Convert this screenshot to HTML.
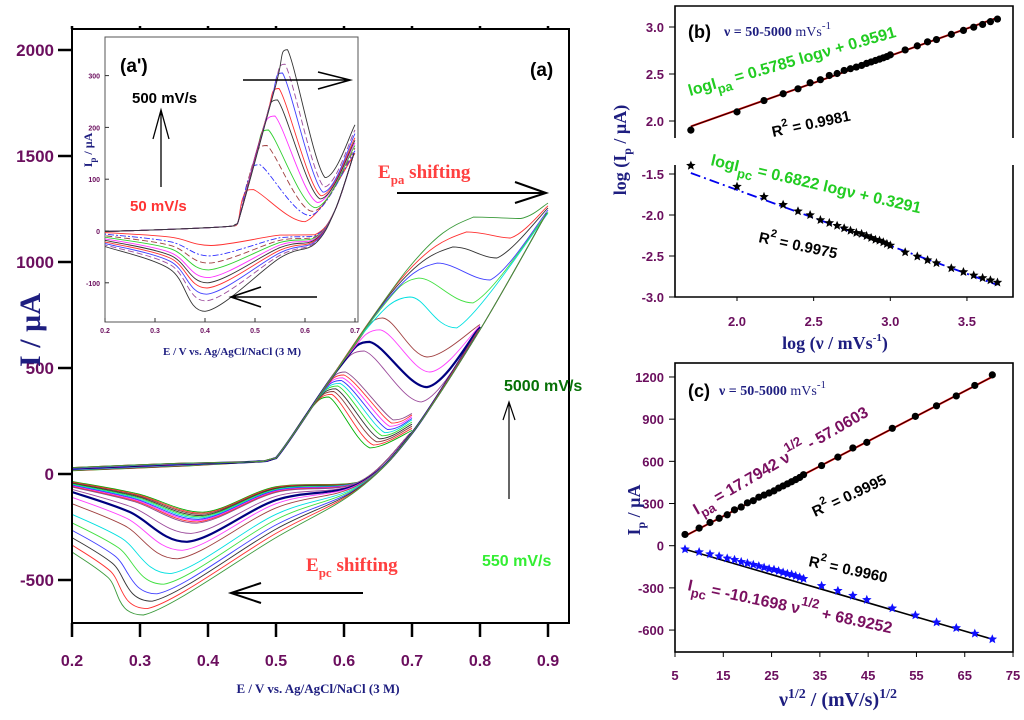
<!DOCTYPE html>
<html><head><meta charset="utf-8"><style>
body{margin:0;background:#fff}
svg{display:block}
text{font-family:"Liberation Sans",sans-serif}
.serif{font-family:"Liberation Serif",serif}
.tk{fill:#6b0f5e;font-weight:bold}
</style></head><body>
<svg id="fig" width="1024" height="720" viewBox="0 0 1024 720" xmlns="http://www.w3.org/2000/svg">
<rect width="1024" height="720" fill="#fff"/>
<g id="main"></g>
<g id="inset"></g>
<g id="pb"></g>
<g id="pc"></g>
</svg>
<script>
// ---------- Panel (c)/(b) data ----------
const rates = [50,100,150,200,250,300,350,400,450,500,550,600,650,700,750,800,850,900,950,1000,1250,1500,1750,2000,2500,3000,3500,4000,4500,5000];
const ipaVals = [80,125,165,195,220,255,275,305,320,345,360,375,390,410,425,440,455,470,485,505,570,630,695,735,835,920,995,1065,1140,1215];
const ipcVals = [-25,-45,-60,-75,-90,-100,-115,-125,-135,-145,-155,-165,-170,-180,-190,-200,-205,-215,-225,-235,-285,-320,-355,-385,-445,-495,-545,-585,-625,-665];
const cFitPa = [17.7942,-57.0603];
const cFitPc = [-10.1698,68.9252];
const bFitPa = [0.5785,0.9591];
const bFitPc = [0.6822,0.3291];
const cXTicks = [5,15,25,35,45,55,65,75];
const cYTicks = [1200,900,600,300,0,-300,-600];
const bXTicks = [2.0,2.5,3.0,3.5];
const bYTicksUp = [3.0,2.5,2.0];
const bYTicksLo = [-1.5,-2.0,-2.5,-3.0];

// ---------- Panel (a) data (20 curves: 550..1000, 1250..2000, 2500..5000) ----------
const mSwitch = [0.7,0.7,0.7,0.7,0.7,0.7,0.7,0.7,0.7,0.7,0.8,0.8,0.8,0.8,0.9,0.9,0.9,0.9,0.9,0.9];
const mEpa = [0.578,0.582,0.585,0.588,0.591,0.594,0.596,0.598,0.6,0.602,0.63,0.638,0.653,0.657,0.697,0.71,0.737,0.76,0.78,0.79];
const mIpa = [363,376,389,402,415,428,441,454,467,481,580,623,680,736,835,924,995,1071,1142,1212];
const mEv = [0.638,0.643,0.648,0.652,0.656,0.66,0.664,0.667,0.67,0.672,0.714,0.722,0.726,0.722,0.766,0.79,0.815,0.825,0.845,0.86];
const mIv = [123,137,152,166,180,195,210,225,240,255,340,410,481,552,689,807,915,1019,1113,1205];
const mEnd = [205,215,225,235,245,255,262,270,278,285,690,695,700,705,1230,1235,1245,1255,1265,1278];
const mEpc = [0.392,0.391,0.39,0.389,0.388,0.387,0.386,0.385,0.384,0.383,0.375,0.369,0.362,0.355,0.345,0.335,0.325,0.318,0.311,0.305];
const mIpc = [-180,-185,-190,-196,-202,-208,-214,-220,-226,-232,-280,-320,-360,-400,-470,-520,-565,-600,-635,-665];
const mR5 = [-60,-63,-66,-69,-72,-75,-78,-81,-84,-87,-105,-123,-140,-160,-190,-215,-240,-260,-280,-300];
const mR2 = [-35,-38,-41,-44,-47,-50,-53,-56,-59,-62,-72,-85,-110,-140,-190,-230,-265,-300,-335,-368];
const mF0 = [15,16,17,18,19,20,21,22,23,24,25,26,27,28,28,29,29,30,30,30];
const mColors = ['#00b000','#ff3030','#8b3a3a','#333333','#30e030','#00dddd','#3030ff','#ff30ff','#ff3030','#8b4a8b','#9b4a9b','#000080','#ff40ff','#a04040','#00e0e0','#40e040','#4040ff','#333333','#ff3030','#3a9a3a'];
const mLower = [[0.9,1230],[0.8,680],[0.7,193]];
const mXTicks = [0.2,0.3,0.4,0.5,0.6,0.7,0.8,0.9];
const mYTicks = [2000,1500,1000,500,0,-500];

// ---------- Inset data (50..500 mV/s) ----------
const iEpa = [0.497,0.51,0.524,0.527,0.54,0.545,0.548,0.555,0.56,0.565];
const iIpa = [80,128,165,195,222,253,275,305,322,350];
const iEv = [0.6,0.61,0.615,0.62,0.625,0.63,0.632,0.636,0.638,0.64];
const iIv = [18,30,38,45,55,62,68,75,85,103];
const iEnd = [150,155,160,165,170,175,180,188,195,205];
const iEpc = [0.412,0.41,0.408,0.407,0.406,0.405,0.404,0.403,0.402,0.4];
const iIpc = [-28,-48,-62,-75,-90,-100,-110,-122,-135,-155];
const iR5 = [-8,-13,-18,-22,-27,-32,-37,-42,-47,-52];
const iR2 = [-3,-6,-9,-12,-15,-18,-21,-24,-27,-30];
const iColors = ['#ff3030','#3030ff','#a04040','#30d030','#ff30ff','#333333','#ff3030','#4040ff','#9b4a9b','#333333'];
const iDash = ['','6 2 2 2','6 3','','','','','','6 3',''];
const iXTicks = [0.2,0.3,0.4,0.5,0.6,0.7];
const iYTicks = [300,200,100,0,-100];

const NS='http://www.w3.org/2000/svg';
function mk(parent,tag,attrs,txt){const e=document.createElementNS(NS,tag);for(const k in attrs)e.setAttribute(k,attrs[k]);if(txt!==undefined)e.textContent=txt;parent.appendChild(e);return e;}
function clamp(v,a,b){const lo=Math.min(a,b),hi=Math.max(a,b);return Math.max(lo,Math.min(hi,v));}
function spline(p){let d='M'+p[0][0].toFixed(1)+','+p[0][1].toFixed(1);
 for(let i=0;i<p.length-1;i++){const p0=p[i-1]||p[i],p1=p[i],p2=p[i+1],p3=p[i+2]||p2;
  const c1=[p1[0]+(p2[0]-p0[0])/6,clamp(p1[1]+(p2[1]-p0[1])/6,p1[1],p2[1])],c2=[p2[0]-(p3[0]-p1[0])/6,clamp(p2[1]-(p3[1]-p1[1])/6,p1[1],p2[1])];
  c1[0]=clamp(c1[0],p1[0],p2[0]);c2[0]=clamp(c2[0],p1[0],p2[0]);
  d+='C'+c1[0].toFixed(1)+','+c1[1].toFixed(1)+' '+c2[0].toFixed(1)+','+c2[1].toFixed(1)+' '+p2[0].toFixed(1)+','+p2[1].toFixed(1);}
 return d;}
function star(cx,cy,r){let s='';for(let i=0;i<10;i++){const a=-Math.PI/2+i*Math.PI/5,rr=i%2?r*0.45:r;s+=(cx+rr*Math.cos(a)).toFixed(1)+','+(cy+rr*Math.sin(a)).toFixed(1)+' ';}return s;}

// ================= Panel (a) =================
const G=document.getElementById('main');
const X=E=>72+(E-0.2)*680, Y=I=>474-I*0.212;
for(let k=0;k<mIpa.length;k++){
 const up=E=>75+4600*(E-0.5);
 const f=[[0.2,mF0[k]],[0.35,mF0[k]+20],[0.47,58],[0.5,75]];
 const er=0.5+(0.8*mIpa[k]-75)/4600; if(er<mEpa[k]-0.01)f.push([er,up(er)]);
 f.push([mEpa[k],mIpa[k]],[mEv[k],mIv[k]],[mSwitch[k],mEnd[k]]);
 const r=[];
 mLower.forEach(q=>{if(q[0]<=mSwitch[k]+1e-6)r.push([q[0]-(Math.abs(q[0]-mSwitch[k])<1e-6?0.002:0),q[1]]);});
 r.push([0.62,-30+0.15*mR5[k]],[0.5,mR5[k]],[mEpc[k],mIpc[k]],[(mEpc[k]+0.2)/2,0.4*mIpc[k]+0.6*mR2[k]],[0.2,mR2[k]]);
 const pf=f.map(q=>[X(q[0]),Y(q[1])]), pr=r.map(q=>[X(q[0]),Y(q[1])]);
 const w=k===11?2.2:0.9;
 const a=mk(G,'path',{d:spline(pf),fill:'none',stroke:mColors[k],'stroke-width':w});
 
 
 const b=mk(G,'path',{d:spline(pr),fill:'none',stroke:mColors[k],'stroke-width':w});
 
 
}
mk(G,'rect',{x:72,y:29,width:497,height:594,fill:'none',stroke:'#000','stroke-width':2});
mXTicks.forEach(v=>{const t=mk(G,'line',{x1:X(v),x2:X(v),y1:623,y2:637,stroke:'#000','stroke-width':2.5});
 mk(G,'line',{x1:X(v),x2:X(v),y1:29,y2:26,stroke:'#000','stroke-width':2.5});
 const l=mk(G,'text',{x:X(v),y:666,'text-anchor':'middle','font-size':16,class:'tk'},v.toFixed(1));});
mYTicks.forEach(v=>{const t=mk(G,'line',{x1:58,x2:72,y1:Y(v),y2:Y(v),stroke:'#000','stroke-width':2.5});
 const l=mk(G,'text',{x:54,y:Y(v)+6,'text-anchor':'end','font-size':17,class:'tk'},String(v));});

// ================= Inset =================
const H=document.getElementById('inset');
const Xi=E=>105+(E-0.2)*500, Yi=I=>231-I*0.518;
mk(H,'rect',{x:105,y:37,width:253,height:285,fill:'#fff',stroke:'#555','stroke-width':1});
for(let k=0;k<iIpa.length;k++){
 const up=E=>12+3300*(E-0.46);
 const f=[[0.2,-1],[0.35,4],[0.45,9],[0.465,14]];
 const er=0.46+(0.8*iIpa[k]-12)/3300; if(er<iEpa[k]-0.008)f.push([er,up(er)]);
 f.push([iEpa[k],iIpa[k]],[iEv[k],iIv[k]],[0.7,iEnd[k]]);
 const r=[[0.698,150],[0.66,40],[0.62,-4+0.4*iR5[k]],[0.55,iR5[k]],[iEpc[k],iIpc[k]],[0.33,0.35*iIpc[k]+0.65*iR2[k]],[0.2,iR2[k]]];
 const a=mk(H,'path',{d:spline(f.map(q=>[Xi(q[0]),Yi(q[1])])),fill:'none',stroke:iColors[k],'stroke-width':0.9,'stroke-dasharray':iDash[k]});
 
 
 const b=mk(H,'path',{d:spline(r.map(q=>[Xi(q[0]),Yi(q[1])])),fill:'none',stroke:iColors[k],'stroke-width':0.9,'stroke-dasharray':iDash[k]});
 
 
}
iXTicks.forEach(v=>{mk(H,'line',{x1:Xi(v),x2:Xi(v),y1:322,y2:318,stroke:'#333'});
 const l=mk(H,'text',{x:Xi(v),y:333,'text-anchor':'middle','font-size':7,class:'tk'},v.toFixed(1));});
iYTicks.forEach(v=>{mk(H,'line',{x1:105,x2:109,y1:Yi(v),y2:Yi(v),stroke:'#333'});
 const l=mk(H,'text',{x:100,y:Yi(v)+3,'text-anchor':'end','font-size':7,class:'tk'},String(v));});

// ================= Panel (b) =================
const B=document.getElementById('pb');
const Xb=v=>737+(v-2)*153.3, Yu=v=>27+(3-v)*94, Yl=v=>174+(-1.5-v)*82;
mk(B,'path',{d:'M675,138V6H1013V138M675,165V297H1013V165',fill:'none',stroke:'#000','stroke-width':1.6});
const lx=[Math.log10(rates[0]),Math.log10(rates[rates.length-1])];
mk(B,'line',{x1:Xb(lx[0]),y1:Yu(bFitPa[0]*lx[0]+bFitPa[1]),x2:Xb(lx[1]),y2:Yu(bFitPa[0]*lx[1]+bFitPa[1]),stroke:'#d00000','stroke-width':2});
mk(B,'line',{x1:Xb(lx[0]),y1:Yu(bFitPa[0]*lx[0]+bFitPa[1]),x2:Xb(lx[1]),y2:Yu(bFitPa[0]*lx[1]+bFitPa[1]),stroke:'#000','stroke-width':0.8});
mk(B,'line',{x1:Xb(lx[0]),y1:Yl(-(bFitPc[0]*lx[0]+bFitPc[1])),x2:Xb(lx[1]),y2:Yl(-(bFitPc[0]*lx[1]+bFitPc[1])),stroke:'#0000ee','stroke-width':1.8,'stroke-dasharray':'10 4 2 4'});
rates.forEach((v,i)=>{const x=Xb(Math.log10(v));
 const c=mk(B,'circle',{cx:x,cy:Yu(Math.log10(ipaVals[i])),r:3.6,fill:'#000'});
 
 
 const s=mk(B,'polygon',{points:star(x,Yl(-Math.log10(-ipcVals[i])),5),fill:'#000'});
 
 });
bXTicks.forEach(v=>{mk(B,'line',{x1:Xb(v),x2:Xb(v),y1:297,y2:301,stroke:'#000'});
 const l=mk(B,'text',{x:Xb(v),y:326,'text-anchor':'middle','font-size':13,class:'tk'},v.toFixed(1));});
bYTicksUp.forEach(v=>{mk(B,'line',{x1:669,x2:675,y1:Yu(v),y2:Yu(v),stroke:'#000'});
 const l=mk(B,'text',{x:664,y:Yu(v)+5,'text-anchor':'end','font-size':13,class:'tk'},v.toFixed(1));});
bYTicksLo.forEach(v=>{mk(B,'line',{x1:669,x2:675,y1:Yl(v),y2:Yl(v),stroke:'#000'});
 const l=mk(B,'text',{x:664,y:Yl(v)+5,'text-anchor':'end','font-size':13,class:'tk'},v.toFixed(1));});

// ================= Panel (c) =================
const C=document.getElementById('pc');
const Xc=v=>675+(v-5)*4.829, Yc=v=>545.7-v*0.1406;
mk(C,'rect',{x:675,y:363,width:338,height:289,fill:'none',stroke:'#000','stroke-width':1.6});
const sx=[Math.sqrt(rates[0]),Math.sqrt(rates[rates.length-1])];
mk(C,'line',{x1:Xc(sx[0]),y1:Yc(cFitPa[0]*sx[0]+cFitPa[1]),x2:Xc(sx[1]),y2:Yc(cFitPa[0]*sx[1]+cFitPa[1]),stroke:'#e00000','stroke-width':2});
mk(C,'line',{x1:Xc(sx[0]),y1:Yc(cFitPa[0]*sx[0]+cFitPa[1]),x2:Xc(sx[1]),y2:Yc(cFitPa[0]*sx[1]+cFitPa[1]),stroke:'#000','stroke-width':0.8});
mk(C,'line',{x1:Xc(sx[0]),y1:Yc(ipcVals[0]),x2:Xc(sx[1]),y2:Yc(ipcVals[ipcVals.length-1]),stroke:'#000','stroke-width':1.6});
rates.forEach((v,i)=>{const x=Xc(Math.sqrt(v));
 const c=mk(C,'circle',{cx:x,cy:Yc(ipaVals[i]),r:3.6,fill:'#000'});
 
 
 const s=mk(C,'polygon',{points:star(x,Yc(ipcVals[i]),5),fill:'#1010ff'});
 
 });
cXTicks.forEach(v=>{mk(C,'line',{x1:Xc(v),x2:Xc(v),y1:652,y2:657,stroke:'#000'});
 const l=mk(C,'text',{x:Xc(v),y:680,'text-anchor':'middle','font-size':13,class:'tk'},String(v));});
cYTicks.forEach(v=>{mk(C,'line',{x1:669,x2:675,y1:Yc(v),y2:Yc(v),stroke:'#000'});
 const l=mk(C,'text',{x:664,y:Yc(v)+5,'text-anchor':'end','font-size':13,class:'tk'},String(v));});
</script>
<script>
const S=document.getElementById('fig');
S.insertAdjacentHTML('beforeend',`
<g>
<text x="530" y="76" font-size="19" font-weight="bold">(a)</text>
<text class="serif" x="378" y="178" font-size="19" font-weight="bold" fill="#ff4040">E<tspan font-size="13" dy="6">pa</tspan><tspan dy="-6"> shifting</tspan></text>
<path d="M397,193H545M515,182L546,193L515,203" fill="none" stroke="#000" stroke-width="2"/>
<text x="504" y="391" font-size="16" font-weight="bold" fill="#067006">5000 mV/s</text>
<path d="M509,499V402M503,420L509,402L515,420" fill="none" stroke="#000" stroke-width="1.2"/>
<text x="482" y="566" font-size="16" font-weight="bold" fill="#33ee33">550 mV/s</text>
<text class="serif" x="306" y="571" font-size="19" font-weight="bold" fill="#ff4040">E<tspan font-size="13" dy="6">pc</tspan><tspan dy="-6"> shifting</tspan></text>
<path d="M363,593H231M261,583L231,593L261,603" fill="none" stroke="#000" stroke-width="2"/>
<text class="serif" transform="translate(40,330) rotate(-90)" text-anchor="middle" font-size="30" font-weight="bold" fill="#1e1e80">I / µA</text>
<text class="serif" x="318" y="693" text-anchor="middle" font-size="13" font-weight="bold" fill="#1e1e80">E / V vs. Ag/AgCl/NaCl (3 M)</text>
<text x="120" y="72" font-size="19" font-weight="bold">(a')</text>
<text x="132" y="103" font-size="15" font-weight="bold">500 mV/s</text>
<path d="M161,187V110M153,139L161,110L169,139" fill="none" stroke="#000" stroke-width="1.3"/>
<text x="130" y="211" font-size="15" font-weight="bold" fill="#ff3333">50 mV/s</text>
<path d="M243,80H349M318,72L350,80L318,89" fill="none" stroke="#000" stroke-width="1.6"/>
<path d="M317,297H231M261,287L231,297L261,307" fill="none" stroke="#000" stroke-width="1.6"/>
<text class="serif" transform="translate(92,150) rotate(-90)" text-anchor="middle" font-size="12" font-weight="bold" fill="#1e1e80">I<tspan font-size="9" dy="4">p</tspan><tspan dy="-4"> / µA</tspan></text>
<text class="serif" x="232" y="355" text-anchor="middle" font-size="11" font-weight="bold" fill="#1e1e80">E / V vs. Ag/AgCl/NaCl (3 M)</text>

<text x="688" y="38" font-size="18" font-weight="bold">(b)</text>
<text class="serif" x="724" y="36" font-size="14" font-weight="bold" fill="#1e1e80">ν = 50-5000 <tspan font-weight="normal">mVs</tspan><tspan font-weight="normal" font-size="11" dy="-7">-1</tspan></text>
<text transform="translate(690,96) rotate(-16)" font-size="16" font-weight="bold" fill="#22cc22">logI<tspan font-size="13" dy="6">pa</tspan><tspan dy="-6"> =  0.5785 logν + 0.9591</tspan></text>
<text transform="translate(773,137) rotate(-12)" font-size="15" font-weight="bold">R<tspan font-size="11" dy="-8">2</tspan><tspan dy="8"> = 0.9981</tspan></text>
<text transform="translate(710,165) rotate(13)" font-size="16" font-weight="bold" fill="#22cc22">logI<tspan font-size="13" dy="6">pc</tspan><tspan dy="-6"> =  0.6822 logν + 0.3291</tspan></text>
<text transform="translate(758,242) rotate(12)" font-size="15" font-weight="bold">R<tspan font-size="11" dy="-8">2</tspan><tspan dy="8"> = 0.9975</tspan></text>
<text class="serif" x="835" y="349" text-anchor="middle" font-size="18" font-weight="bold" fill="#1e1e80">log (ν / mVs<tspan font-size="11" dy="-8">-1</tspan><tspan dy="8">)</tspan></text>
<text class="serif" transform="translate(626,150) rotate(-90)" text-anchor="middle" font-size="18" font-weight="bold" fill="#1e1e80">log (I<tspan font-size="12" dy="5">p</tspan><tspan dy="-5"> / µA)</tspan></text>

<text x="688" y="397" font-size="18" font-weight="bold">(c)</text>
<text class="serif" x="719" y="395" font-size="14" font-weight="bold" fill="#1e1e80">ν = 50-5000 <tspan font-weight="normal">mVs</tspan><tspan font-weight="normal" font-size="11" dy="-7">-1</tspan></text>
<text transform="translate(697,515) rotate(-30)" font-size="16" font-weight="bold" fill="#7a1060">I<tspan font-size="13" dy="6">pa</tspan><tspan dy="-6"> =  17.7942 ν</tspan><tspan font-size="13" dy="-9">1/2</tspan><tspan dy="9">  -  57.0603</tspan></text>
<text transform="translate(815,517) rotate(-25)" font-size="15" font-weight="bold">R<tspan font-size="11" dy="-8">2</tspan><tspan dy="8"> = 0.9995</tspan></text>
<text transform="translate(808,566) rotate(12)" font-size="15" font-weight="bold">R<tspan font-size="11" dy="-8">2</tspan><tspan dy="8"> = 0.9960</tspan></text>
<text transform="translate(687,590) rotate(12)" font-size="16" font-weight="bold" fill="#7a1060">I<tspan font-size="13" dy="6">pc</tspan><tspan dy="-6"> =  -10.1698 ν</tspan><tspan font-size="13" dy="-9">1/2</tspan><tspan dy="9">  + 68.9252</tspan></text>
<text class="serif" x="838" y="706" text-anchor="middle" font-size="20" font-weight="bold" fill="#1e1e80">ν<tspan font-size="14" dy="-8">1/2</tspan><tspan dy="8"> / (mV/s)</tspan><tspan font-size="14" dy="-8">1/2</tspan></text>
<text class="serif" transform="translate(640,510) rotate(-90)" text-anchor="middle" font-size="18" font-weight="bold" fill="#1e1e80">I<tspan font-size="12" dy="5">p</tspan><tspan dy="-5"> / µA</tspan></text>
</g>`);
</script>
</body></html>
